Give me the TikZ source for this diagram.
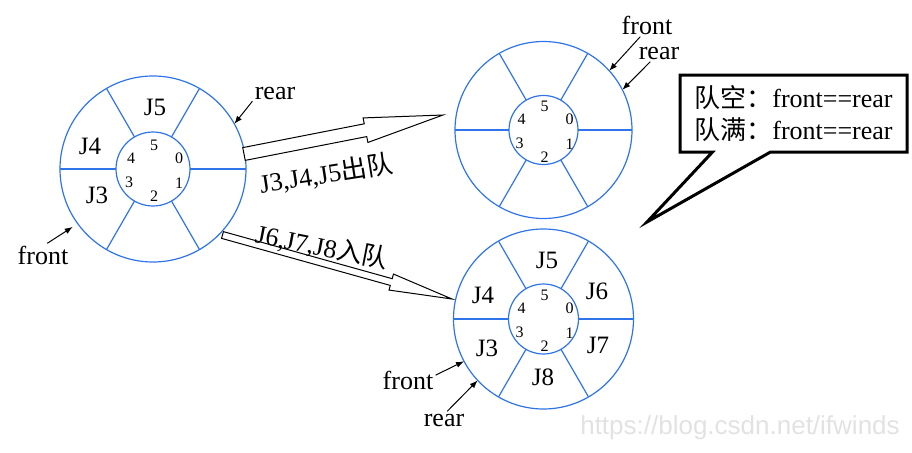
\documentclass[tikz,border=0pt]{standalone}
\usepackage{fontspec}
\setmainfont{Liberation Serif}
\newfontfamily\cjk{Noto Sans CJK SC}
\newfontfamily\wmfont{Liberation Sans}
\usepackage{tikz}
\usetikzlibrary{calc,arrows.meta,shapes.arrows,shapes.callouts}
\definecolor{qblue}{HTML}{2F74E8}
\definecolor{wmgray}{HTML}{E2E2E2}
\tikzset{
  qring/.style={circle, draw=qblue, line width=0.6pt, inner sep=0pt, outer sep=0pt},
  spoke/.style={draw=qblue, line width=0.6pt},
  idx/.style={font=\fontsize{8}{9}\selectfont, inner sep=0pt},
  job/.style={font=\fontsize{12.5}{14}\selectfont, inner sep=1pt},
  lab/.style={font=\fontsize{13}{15}\selectfont, inner sep=1pt},
  ptr/.style={draw=black, line width=0.5pt, -{Latex[length=4pt,width=3pt]}},
  fat/.style={single arrow, draw=black, fill=white, line width=0.5pt, inner xsep=0pt,
              minimum width=0pt, anchor=tail, outer sep=0pt},
  note/.style={rectangle callout, draw=black, line width=1.5pt, fill=white, align=left, font=\fontsize{13}{16}\selectfont},
  wm/.style={font=\wmfont\fontsize{13}{15}\selectfont, text=wmgray},
}

\begin{document}
\begin{tikzpicture}[x=0.5pt,y=0.5pt]
  \useasboundingbox (0,0) rectangle (912,452);

  % three circular queues
  \foreach \q/\x/\y/\R/\r in {q1/153/283/93/37, q2/543.5/322/88.5/34.5, q3/543.5/133/90/35} {
    \node[qring, minimum size={\R pt}] (\q) at (\x,\y) {};
    \node[qring, minimum size={\r pt}] (\q in) at (\x,\y) {};
    \foreach \a in {0,60,...,300}
      \draw[spoke] (\q in.\a) -- (\q.\a);
    \foreach \i/\dx/\dy in {0/26/11,1/26/-14,2/1/-27,3/-24/-13,4/-22/11,5/1/24}
      \node[idx] (\q n\i) at ($(\q)+(\dx,\dy)$) {\i};
  }

  \node[job] (q1j5) at (155,345) {J5};
  \node[job] (q1j4) at (90,306) {J4};
  \node[job] (q1j3) at (97,257) {J3};

  \node[job] (q3j5) at (547,192) {J5};
  \node[job] (q3j4) at (483,157) {J4};
  \node[job] (q3j6) at (597,161) {J6};
  \node[job] (q3j3) at (487,104) {J3};
  \node[job] (q3j7) at (598,107) {J7};
  \node[job] (q3j8) at (543,75) {J8};

  % front / rear pointers
  \node[lab] (re1) at (275,359) {rear};
  \draw[ptr] (re1.200) -- (q1.29);
  \node[lab] (fr1) at (43,197) {front};
  \draw[ptr, shorten >=3pt] (fr1.70) -- (q1.216);

  \node[lab] (fr2) at (647,427) {front};
  \draw[ptr] (fr2.240) -- (q2.42);
  \node[lab] (re2) at (659,399) {rear};
  \draw[ptr] (re2.225) -- (q2.27);

  \node[lab] (fr3) at (408,72) {front};
  \draw[ptr] (fr3.10) -- (q3.208);
  \node[lab] (re3) at (444,32) {rear};
  \draw[ptr] (re3.70) -- (q3.223);

  % hollow arrows
  \coordinate (deqtail) at (244,298);
  \coordinate (deqtip) at (443,337);
  \coordinate (enqtail) at (222.5,217);
  \coordinate (enqtip) at (452,153);
  \path let \p1=($(deqtip)-(deqtail)$), \n1={veclen(\x1,\y1)}, \n2={atan2(\y1,\x1)} in
    node[fat, minimum height=\n1, rotate=\n2, inner ysep=3pt,
         single arrow head extend=3pt, single arrow tip angle=18] (deq) at (deqtail) {};
  \path let \p1=($(enqtip)-(enqtail)$), \n1={veclen(\x1,\y1)}, \n2={atan2(\y1,\x1)} in
    node[fat, minimum height=\n1, rotate=\n2, inner ysep=1.5pt,
         single arrow head extend=2.4pt, single arrow tip angle=15] (enq) at (enqtail) {};
  \node[lab, rotate=9] (deqlab) at (326,278) {J3,J4,J5{\cjk 出队}};
  \node[lab, rotate=-11] (enqlab) at (322,205) {J6,J7,J8{\cjk 入队}};

  % note
  \node[note, minimum width=113.5pt, minimum height=38.5pt,
        callout absolute pointer={(647,230)}, callout pointer width=29pt] (rule) at (793.5,338.5)
    {{\cjk 队空：}front==rear\\{\cjk 队满：}front==rear};

  \node[wm] (url) at (740,24) {https://blog.csdn.net/ifwinds};
\end{tikzpicture}
\end{document}
